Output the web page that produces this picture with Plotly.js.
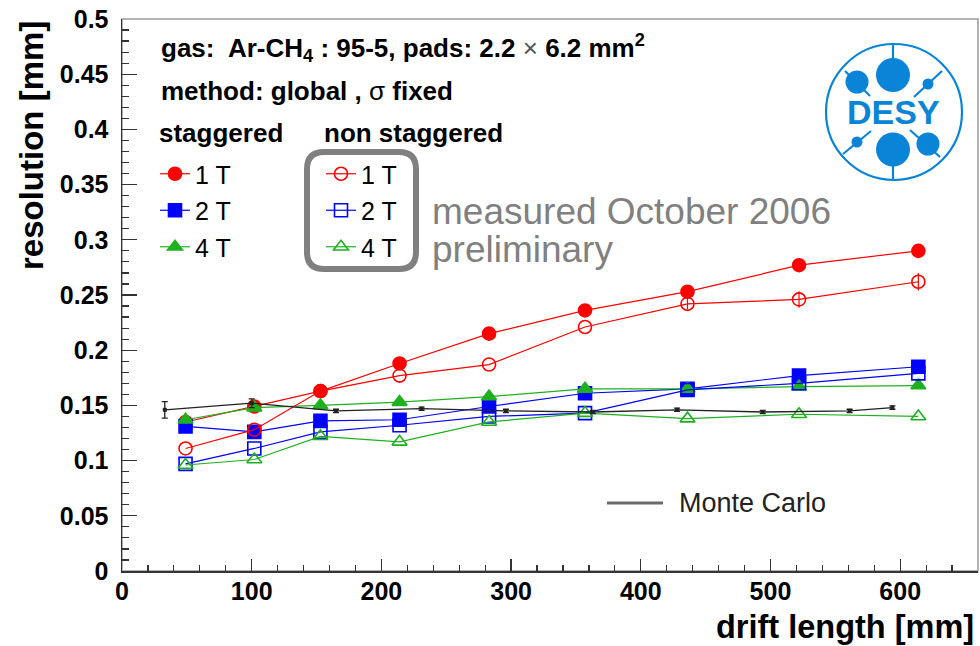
<!DOCTYPE html>
<html>
<head>
<meta charset="utf-8">
<script src="https://cdn.plot.ly/plotly-3.0.1.min.js"></script>
<style>
  html, body { margin: 0; padding: 0; background: #fff; }
  #chart { width: 980px; height: 646px; }
</style>
</head>
<body>
<div id="chart"></div>
<script>
// Drift lengths [mm] of the measured points
const driftLength = [49, 102, 153, 214, 283, 357, 436, 522, 614];

// Staggered pads: resolution [mm]
const stag1T = [0.135, 0.149, 0.163, 0.188, 0.215, 0.236, 0.253, 0.277, 0.290];
const stag2T = [0.131, 0.126, 0.136, 0.137, 0.149, 0.161, 0.165, 0.177, 0.185];
const stag4T = [0.137, 0.148, 0.150, 0.153, 0.158, 0.165, 0.165, 0.167, 0.168];

// Non staggered pads: resolution [mm]
const non1T = [0.111, 0.128, 0.163, 0.177, 0.187, 0.221, 0.242, 0.246, 0.262];
const non2T = [0.097, 0.111, 0.126, 0.132, 0.140, 0.143, 0.164, 0.170, 0.179];
const non4T = [0.096, 0.101, 0.122, 0.117, 0.135, 0.143, 0.138, 0.142, 0.140];
const non1TErr = [0, 0, 0, 0, 0, 0, 0.005, 0.0075, 0.008];
const noErr = [0, 0, 0, 0, 0, 0, 0, 0, 0];

// Monte Carlo simulation
const mcDrift = [33, 100, 165, 231, 296, 363, 428, 494, 561, 594];
const mcRes   = [0.146, 0.152, 0.145, 0.147, 0.145, 0.144, 0.146, 0.144, 0.145, 0.148];
const mcErr   = [0.0075, 0.004, 0.0015, 0.0015, 0.0015, 0.0015, 0.0015, 0.0015, 0.0015, 0.0015];

// Axis ticks
const xTickVals = [0, 100, 200, 300, 400, 500, 600];
const xTickText = ['0', '100', '200', '300', '400', '500', '600'];
const yTickVals = [0, 0.05, 0.1, 0.15, 0.2, 0.25, 0.3, 0.35, 0.4, 0.45, 0.5];
const yTickText = ['0', '0.05', '0.1', '0.15', '0.2', '0.25', '0.3', '0.35', '0.4', '0.45', '0.5'];

const RED = '#ff0000', BLUE = '#0000ff', GREEN = '#1fb01f', DESY = '#0a84d6';
const FONT = 'Liberation Sans, Arial, Helvetica, sans-serif';

// frame geometry (pixels) used to place the overlay texts and shapes
const W = 980, H = 646, L = 122, T = 19, PW = 856, PH = 552;
const px = x => (x - L) / PW;
const py = y => (T + PH - y) / PH;

function series(x, y, err, color, symbol, name, legend, group) {
  return {
    type: 'scatter', mode: 'lines+markers', x: x, y: y, name: name,
    legend: legend, legendgroup: group,
    line: { color: color, width: 1.2 },
    marker: { color: color, symbol: symbol, size: 13, line: { color: color, width: 1.6 } },
    error_y: { type: 'data', array: err, visible: true, color: color, thickness: 1.2, width: 0 },
    cliponaxis: false
  };
}

const traces = [
  series(driftLength, stag1T, noErr, RED, 'circle', '1 T', 'legend', 's1'),
  series(driftLength, stag2T, noErr, BLUE, 'square', '2 T', 'legend', 's2'),
  series(driftLength, stag4T, noErr, GREEN, 'triangle-up', '4 T', 'legend', 's4'),
  series(driftLength, non1T, non1TErr, RED, 'circle-open', '1 T', 'legend2', 'n1'),
  series(driftLength, non2T, noErr, BLUE, 'square-open', '2 T', 'legend2', 'n2'),
  series(driftLength, non4T, noErr, GREEN, 'triangle-up-open', '4 T', 'legend2', 'n4'),
  {
    type: 'scatter', mode: 'lines+markers', x: mcDrift, y: mcRes, name: 'Monte Carlo',
    showlegend: false,
    line: { color: '#222', width: 1.3 },
    marker: { color: '#222', symbol: 'square', size: 4 },
    error_y: { type: 'data', array: mcErr, visible: true, color: '#222', thickness: 1.3, width: 3 }
  }
];

// rounded box around the non staggered legend
function roundedBox(x0, y0, x1, y1, r) {
  const p = (x, y) => px(x).toFixed(5) + ',' + py(y).toFixed(5);
  return 'M' + p(x0 + r, y0) + ' L' + p(x1 - r, y0) + ' Q' + p(x1, y0) + ' ' + p(x1, y0 + r) +
         ' L' + p(x1, y1 - r) + ' Q' + p(x1, y1) + ' ' + p(x1 - r, y1) +
         ' L' + p(x0 + r, y1) + ' Q' + p(x0, y1) + ' ' + p(x0, y1 - r) +
         ' L' + p(x0, y0 + r) + ' Q' + p(x0, y0) + ' ' + p(x0 + r, y0) + ' Z';
}
function circle(cx, cy, r, fill, lw) {
  return {
    type: 'circle', xref: 'paper', yref: 'paper',
    x0: px(cx - r), x1: px(cx + r), y0: py(cy + r), y1: py(cy - r),
    fillcolor: fill, line: { color: DESY, width: lw }
  };
}
function seg(xa, ya, xb, yb, color, w) {
  return {
    type: 'line', xref: 'paper', yref: 'paper',
    x0: px(xa), y0: py(ya), x1: px(xb), y1: py(yb),
    line: { color: color, width: w }
  };
}

const shapes = [
  // top and right frame
  { type: 'rect', xref: 'paper', yref: 'paper', x0: 0, x1: 1, y0: 0, y1: 1,
    line: { color: '#9a9a9a', width: 1.5 }, layer: 'below' },
  { type: 'path', xref: 'paper', yref: 'paper', path: roundedBox(307, 152, 416, 269, 17),
    line: { color: '#808080', width: 6 } },
  // Monte Carlo key
  seg(607, 503, 663, 503, '#6a6a6a', 3),
  // DESY logo
  circle(894, 112, 68, 'rgba(0,0,0,0)', 2.2),
  seg(893, 45, 893, 60, DESY, 2.2),
  seg(893, 164, 893, 179, DESY, 2.2),
  circle(893, 75, 17, DESY, 0),
  circle(893, 149.5, 17, DESY, 0),
  seg(845, 71, 870, 96, DESY, 2.2),
  seg(914, 97, 942, 71, DESY, 2.2),
  seg(843, 154, 871, 131, DESY, 2.2),
  seg(910, 130, 940, 157, DESY, 2.2),
  circle(857, 82, 11.5, DESY, 0),
  circle(928, 84, 5.5, DESY, 0),
  circle(857, 142, 5.5, DESY, 0),
  circle(928, 144, 11.5, DESY, 0)
];

function note(text, x, y, size, opts) {
  return Object.assign({
    text: text, xref: 'paper', yref: 'paper', x: px(x), y: py(y),
    xanchor: 'left', yanchor: 'middle', showarrow: false,
    font: { family: FONT, size: size, color: '#000', weight: 'bold' }
  }, opts || {});
}
const thin = "<span style='font-weight:normal'>";

const annotations = [
  note('gas:&nbsp; Ar-CH<sub>4</sub> : 95-5, pads: 2.2 ' + thin + "<span style='color:#555'>×</span></span> 6.2 mm<sup>2</sup>", 159, 48, 26),
  note('method: global , ' + thin + 'σ</span> fixed', 159, 91, 26),
  note('staggered', 157, 133, 26),
  note('non staggered', 322, 133, 26),
  note('measured October 2006', 430, 211, 37, { font: { family: FONT, size: 37, color: '#808080' } }),
  note('preliminary', 430, 250, 37, { font: { family: FONT, size: 37, color: '#808080' } }),
  note('Monte Carlo', 677, 503, 27, { font: { family: FONT, size: 27, color: '#222' } }),
  note('DESY', 893, 112, 34, { xanchor: 'center', font: { family: FONT, size: 34, color: DESY, weight: 'bold' } }),
  note('resolution [mm]', 31, 146, 33, { xanchor: 'center', textangle: -90 }),
  note('drift length [mm]', 976, 627, 32.5, { xanchor: 'right' })
];

const axisFont = { family: FONT, size: 25, color: '#000', weight: 'bold' };
const legendFont = { family: FONT, size: 25, color: '#000' };

const layout = {
  width: W, height: H,
  margin: { l: L, r: W - L - PW, t: T, b: H - T - PH },
  paper_bgcolor: '#fff', plot_bgcolor: '#fff',
  showlegend: true,
  xaxis: {
    range: [0, 660], tickmode: 'array', tickvals: xTickVals, ticktext: xTickText,
    ticks: 'inside', ticklen: 12, tickwidth: 1.3, tickcolor: '#333',
    minor: { tickmode: 'linear', tick0: 0, dtick: 20, ticks: 'inside', ticklen: 6, tickwidth: 1.2, tickcolor: '#333' },
    showline: true, linecolor: '#333', linewidth: 1.5, mirror: false,
    showgrid: false, zeroline: false, tickfont: axisFont, ticklabelstandoff: -3
  },
  yaxis: {
    range: [0, 0.5], tickmode: 'array', tickvals: yTickVals, ticktext: yTickText,
    ticks: 'inside', ticklen: 15, tickwidth: 1.3, tickcolor: '#333',
    minor: { tickmode: 'linear', tick0: 0, dtick: 0.01, ticks: 'inside', ticklen: 7, tickwidth: 1.2, tickcolor: '#333' },
    showline: true, linecolor: '#333', linewidth: 1.5, mirror: false,
    showgrid: false, zeroline: false, tickfont: axisFont, ticklabelstandoff: 7
  },
  legend: {
    x: px(155), y: py(151), xanchor: 'left', yanchor: 'top',
    bgcolor: 'rgba(0,0,0,0)', borderwidth: 0, font: legendFont, tracegroupgap: 1
  },
  legend2: {
    x: px(321), y: py(151), xanchor: 'left', yanchor: 'top',
    bgcolor: 'rgba(0,0,0,0)', borderwidth: 0, font: legendFont, tracegroupgap: 1
  },
  shapes: shapes,
  annotations: annotations
};

Plotly.newPlot('chart', traces, layout, { displayModeBar: false, staticPlot: true });
</script>
</body>
</html>
